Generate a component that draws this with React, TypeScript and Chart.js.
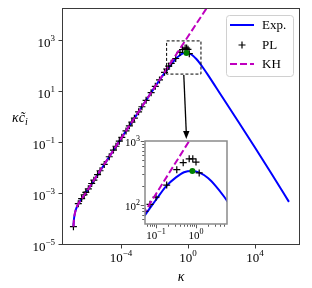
import React, { useEffect, useRef } from 'react';
import { Chart, registerables } from 'chart.js';
Chart.register(...registerables);

// ---------- data ----------
const expKappa = [1.445e-7, 1.549e-7, 1.778e-7, 2.344e-7, 3.548e-7, 6.31e-7, 1.259e-6, 3.162e-6, 1e-5, 1e-4, 1e-3, 1e-2, 0.0316, 0.0531, 0.1, 0.178, 0.316, 0.501, 0.813, 1.259, 1.995, 3.162, 5.012, 7.943, 15.85, 100, 1000, 1e4, 1e5, 1.072e6];
const expValue = [5.25e-5, 1.0e-4, 1.778e-4, 3.162e-4, 5.248e-4, 8.913e-4, 1.778e-3, 4.467e-3, 1.413e-2, 0.148, 1.48, 14.8, 44.7, 69.2, 120, 195, 269, 324, 339, 316, 263, 195, 135, 89.1, 45.7, 7.08, 0.692, 0.0661, 6.03e-3, 4.9e-4];

const plKappa = [1.445e-7, 2.818e-7, 4.467e-7, 6.31e-7, 7.943e-7, 1.122e-6, 1.778e-6, 2.399e-6, 3.981e-6, 5.623e-6, 1e-5, 1.995e-5, 3.548e-5, 5.012e-5, 7.943e-5, 1.122e-4, 1.995e-4, 3.162e-4, 4.467e-4, 6.31e-4, 1.122e-3, 1.778e-3, 3.162e-3, 6.31e-3, 1.122e-2, 1.995e-2, 3.981e-2, 5.31e-2, 7.08e-2, 0.1, 0.185, 0.331, 0.479, 0.676, 0.832, 1.0, 1.202];
const plValue = [5.25e-5, 4.17e-4, 6.61e-4, 9.33e-4, 1.148e-3, 1.585e-3, 2.57e-3, 3.467e-3, 5.754e-3, 8.128e-3, 1.445e-2, 2.884e-2, 5.248e-2, 7.413e-2, 0.1175, 0.166, 0.295, 0.468, 0.661, 0.933, 1.66, 2.63, 4.68, 9.33, 16.6, 29.5, 58.9, 79.4, 102, 132, 204, 355, 457, 525, 525, 468, 316];

const khKappa = [1.445e-7, 1.549e-7, 1.778e-7, 2.344e-7, 3.548e-7, 6.31e-7, 1.259e-6, 3.162e-6, 1e-5, 1e-4, 1e-2, 1, 31.6];
const khValue = [5.25e-5, 1.0e-4, 1.778e-4, 3.162e-4, 5.248e-4, 8.913e-4, 1.778e-3, 4.571e-3, 1.445e-2, 0.148, 14.8, 1480, 46800];

const peakKappa = [0.813];
const peakValue = [339];

const xTickExps = [-4, 0, 4];
const yTickExps = [-5, -3, -1, 1, 3];
const insetXTickExps = [-1, 0];
const insetYTickExps = [2, 3];

const legendLabels = ['Exp.', 'PL', 'KH'];

const mainX = { min: 3.02e-8, max: 4.9e6 };
const mainY = { min: 1e-5, max: 19500 };
const insetX = { min: 0.0531, max: 5.96 };
const insetY = { min: 50.1, max: 1000 };

// ---------- styles ----------
const SERIF = '"Liberation Serif", "Times New Roman", serif';
const BLUE = '#0000ff';
const MAGENTA = '#bf00bf';
const GREEN = '#008000';

const pts = (xs: number[], ys: number[]) => xs.map((x, i) => ({ x, y: ys[i] }));

function powLabel(ctx: CanvasRenderingContext2D, exp: number, x: number, y: number, align: string, size: number) {
  const base = '10';
  const sup = exp < 0 ? '\u2212' + Math.abs(exp) : String(exp);
  const supSize = Math.round(size * 0.7);
  ctx.font = `${size}px ${SERIF}`;
  const w1 = ctx.measureText(base).width;
  ctx.font = `${supSize}px ${SERIF}`;
  const w2 = ctx.measureText(sup).width;
  const total = w1 + w2;
  const sx = align === 'center' ? x - total / 2 : align === 'right' ? x - total : x;
  ctx.textAlign = 'left';
  ctx.textBaseline = 'alphabetic';
  ctx.fillStyle = '#000';
  ctx.font = `${size}px ${SERIF}`;
  ctx.fillText(base, sx, y);
  ctx.font = `${supSize}px ${SERIF}`;
  ctx.fillText(sup, sx + w1, y - size * 0.45);
}

function datasets(markerR: number) {
  return [
    {
      label: 'Exp.', data: pts(expKappa, expValue), showLine: true, borderColor: BLUE, borderWidth: 2,
      pointRadius: 0, cubicInterpolationMode: 'monotone', order: 3, clip: 0,
    },
    {
      label: 'PL', data: pts(plKappa, plValue), showLine: false, pointStyle: 'cross', pointRadius: markerR,
      borderColor: '#000', pointBorderWidth: 1.2, backgroundColor: '#000', order: 2, clip: 0,
    },
    {
      label: 'KH', data: pts(khKappa, khValue), showLine: true, borderColor: MAGENTA, borderWidth: 2,
      borderDash: [7, 3], pointRadius: 0, cubicInterpolationMode: 'monotone', order: 1, clip: 0,
    },
    {
      label: 'peak', data: pts(peakKappa, peakValue), showLine: false, pointRadius: 3, pointStyle: 'circle',
      backgroundColor: GREEN, borderColor: GREEN, borderWidth: 0, order: 0, clip: 0,
    },
  ];
}

const mainPlugin = {
  id: 'mainDecor',
  afterDraw(chart: any) {
    const ctx: CanvasRenderingContext2D = chart.ctx;
    const { left, right, top, bottom } = chart.chartArea;
    const xs = chart.scales.x;
    const ys = chart.scales.y;
    ctx.save();
    // frame
    ctx.strokeStyle = '#3a3a3a';
    ctx.lineWidth = 1;
    ctx.setLineDash([]);
    ctx.strokeRect(left + 0.5, top + 0.5, right - left - 1, bottom - top - 1);
    // ticks
    ctx.beginPath();
    xTickExps.forEach((e) => {
      const px = Math.round(xs.getPixelForValue(Math.pow(10, e))) + 0.5;
      ctx.moveTo(px, bottom);
      ctx.lineTo(px, bottom + 3.5);
    });
    yTickExps.forEach((e) => {
      const py = Math.round(ys.getPixelForValue(Math.pow(10, e))) - 0.5;
      ctx.moveTo(left, py);
      ctx.lineTo(left - 3.5, py);
    });
    ctx.stroke();
    xTickExps.forEach((e) => {
      powLabel(ctx, e, xs.getPixelForValue(Math.pow(10, e)), bottom + 17, 'center', 13);
    });
    yTickExps.forEach((e) => {
      powLabel(ctx, e, left - 7, ys.getPixelForValue(Math.pow(10, e)) + 6, 'right', 13);
    });
    // axis labels
    ctx.fillStyle = '#000';
    ctx.textAlign = 'center';
    ctx.font = `italic 14px ${SERIF}`;
    ctx.fillText('\u03BA', (left + right) / 2, bottom + 36);
    ctx.textAlign = 'left';
    ctx.font = `italic 14px ${SERIF}`;
    const yl = 'κc\u0303';
    ctx.fillText(yl, 12, 122);
    const wy = ctx.measureText(yl).width;
    ctx.font = `italic 10px ${SERIF}`;
    ctx.fillText('i', 12 + wy, 125);
    // zoom rectangle
    const rx0 = xs.getPixelForValue(insetX.min);
    const rx1 = xs.getPixelForValue(insetX.max);
    const ry0 = ys.getPixelForValue(insetY.max);
    const ry1 = ys.getPixelForValue(insetY.min);
    ctx.strokeStyle = '#000';
    ctx.lineWidth = 1;
    ctx.setLineDash([3, 2]);
    ctx.strokeRect(rx0, ry0, rx1 - rx0, ry1 - ry0);
    ctx.setLineDash([]);
    // arrow
    const ax0 = (rx0 + rx1) / 2;
    const ay0 = ry1 + 1;
    const ax1 = ax0 + 2.5;
    const ay1 = 139;
    ctx.lineWidth = 1.3;
    ctx.beginPath();
    ctx.moveTo(ax0, ay0);
    ctx.lineTo(ax1, ay1 - 6);
    ctx.stroke();
    ctx.fillStyle = '#000';
    ctx.beginPath();
    ctx.moveTo(ax1, ay1);
    ctx.lineTo(ax1 - 3.2, ay1 - 8);
    ctx.lineTo(ax1 + 3.2, ay1 - 8);
    ctx.closePath();
    ctx.fill();
    // legend
    const lx = 226, ly = 15, lw = 67, lh = 61;
    ctx.beginPath();
    (ctx as any).roundRect(lx + 0.5, ly + 0.5, lw, lh, 3);
    ctx.fillStyle = 'rgba(255,255,255,0.8)';
    ctx.fill();
    ctx.strokeStyle = '#d0d0d0';
    ctx.lineWidth = 1;
    ctx.stroke();
    const rows = [25, 45, 64];
    // Exp line
    ctx.strokeStyle = BLUE;
    ctx.lineWidth = 2;
    ctx.beginPath();
    ctx.moveTo(230, rows[0]);
    ctx.lineTo(254, rows[0]);
    ctx.stroke();
    // PL cross
    ctx.strokeStyle = '#000';
    ctx.lineWidth = 1.2;
    ctx.beginPath();
    ctx.moveTo(242, rows[1] - 3.5);
    ctx.lineTo(242, rows[1] + 3.5);
    ctx.moveTo(238.5, rows[1]);
    ctx.lineTo(245.5, rows[1]);
    ctx.stroke();
    // KH dashed
    ctx.strokeStyle = MAGENTA;
    ctx.lineWidth = 2;
    ctx.setLineDash([7, 3]);
    ctx.beginPath();
    ctx.moveTo(230, rows[2]);
    ctx.lineTo(254, rows[2]);
    ctx.stroke();
    ctx.setLineDash([]);
    ctx.fillStyle = '#000';
    ctx.font = `13px ${SERIF}`;
    ctx.textAlign = 'left';
    ctx.textBaseline = 'middle';
    legendLabels.forEach((t, i) => ctx.fillText(t, 262, rows[i] + 1));
    ctx.restore();
  },
};

const insetPlugin = {
  id: 'insetDecor',
  beforeDatasetsDraw(chart: any) {
    const ctx: CanvasRenderingContext2D = chart.ctx;
    const { left, right, top, bottom } = chart.chartArea;
    ctx.save();
    ctx.fillStyle = '#fff';
    ctx.fillRect(left, top, right - left, bottom - top);
    ctx.restore();
  },
  afterDraw(chart: any) {
    const ctx: CanvasRenderingContext2D = chart.ctx;
    const { left, right, top, bottom } = chart.chartArea;
    const xs = chart.scales.x;
    const ys = chart.scales.y;
    ctx.save();
    ctx.strokeStyle = '#8a8a8a';
    ctx.lineWidth = 1.5;
    ctx.strokeRect(left, top, right - left, bottom - top);
    ctx.strokeStyle = '#333';
    ctx.lineWidth = 0.8;
    ctx.beginPath();
    for (let d = -2; d <= 1; d++) {
      for (let m = 1; m <= 9; m++) {
        const v = m * Math.pow(10, d);
        if (v < insetX.min || v > insetX.max) continue;
        const px = Math.round(xs.getPixelForValue(v)) + 0.5;
        const len = m === 1 ? 3.5 : 2;
        ctx.moveTo(px, bottom + 0.75);
        ctx.lineTo(px, bottom + 0.75 + len);
      }
    }
    for (let d = 1; d <= 3; d++) {
      for (let m = 1; m <= 9; m++) {
        const v = m * Math.pow(10, d);
        if (v < insetY.min || v > insetY.max) continue;
        const py = Math.round(ys.getPixelForValue(v)) + 0.5;
        const len = m === 1 ? 3.5 : 2;
        ctx.moveTo(left - 0.75, py);
        ctx.lineTo(left - 0.75 - len, py);
      }
    }
    ctx.stroke();
    insetXTickExps.forEach((e) => {
      powLabel(ctx, e, xs.getPixelForValue(Math.pow(10, e)), bottom + 15, 'center', 11);
    });
    insetYTickExps.forEach((e) => {
      powLabel(ctx, e, left - 5, ys.getPixelForValue(Math.pow(10, e)) + 5, 'right', 11);
    });
    ctx.restore();
  },
};

export default function App() {
  const mainRef = useRef<HTMLCanvasElement>(null);
  const insetRef = useRef<HTMLCanvasElement>(null);

  useEffect(() => {
    const main = new Chart(mainRef.current as HTMLCanvasElement, {
      type: 'scatter',
      data: { datasets: datasets(3.5) as any },
      options: {
        animation: false,
        responsive: false,
        devicePixelRatio: 1,
        layout: { padding: { left: 62, right: 12, top: 8, bottom: 43 } },
        plugins: { legend: { display: false }, tooltip: { enabled: false } },
        scales: {
          x: { type: 'logarithmic', display: false, min: mainX.min, max: mainX.max },
          y: { type: 'logarithmic', display: false, min: mainY.min, max: mainY.max },
        },
      },
      plugins: [mainPlugin],
    } as any);
    const inset = new Chart(insetRef.current as HTMLCanvasElement, {
      type: 'scatter',
      data: { datasets: datasets(3.5) as any },
      options: {
        animation: false,
        responsive: false,
        devicePixelRatio: 1,
        layout: { padding: { left: 25, right: 13, top: 13, bottom: 21 } },
        plugins: { legend: { display: false }, tooltip: { enabled: false } },
        scales: {
          x: { type: 'logarithmic', display: false, min: insetX.min, max: insetX.max },
          y: { type: 'logarithmic', display: false, min: insetY.min, max: insetY.max },
        },
      },
      plugins: [insetPlugin],
    } as any);
    return () => {
      main.destroy();
      inset.destroy();
    };
  }, []);

  return (
    <div style={{ position: 'fixed', left: 0, top: 0, width: 312, height: 288, background: '#fff' }}>
      <canvas ref={mainRef} width={312} height={288} style={{ position: 'absolute', left: 0, top: 0 }} />
      <canvas ref={insetRef} width={120} height={117} style={{ position: 'absolute', left: 120, top: 128 }} />
    </div>
  );
}
